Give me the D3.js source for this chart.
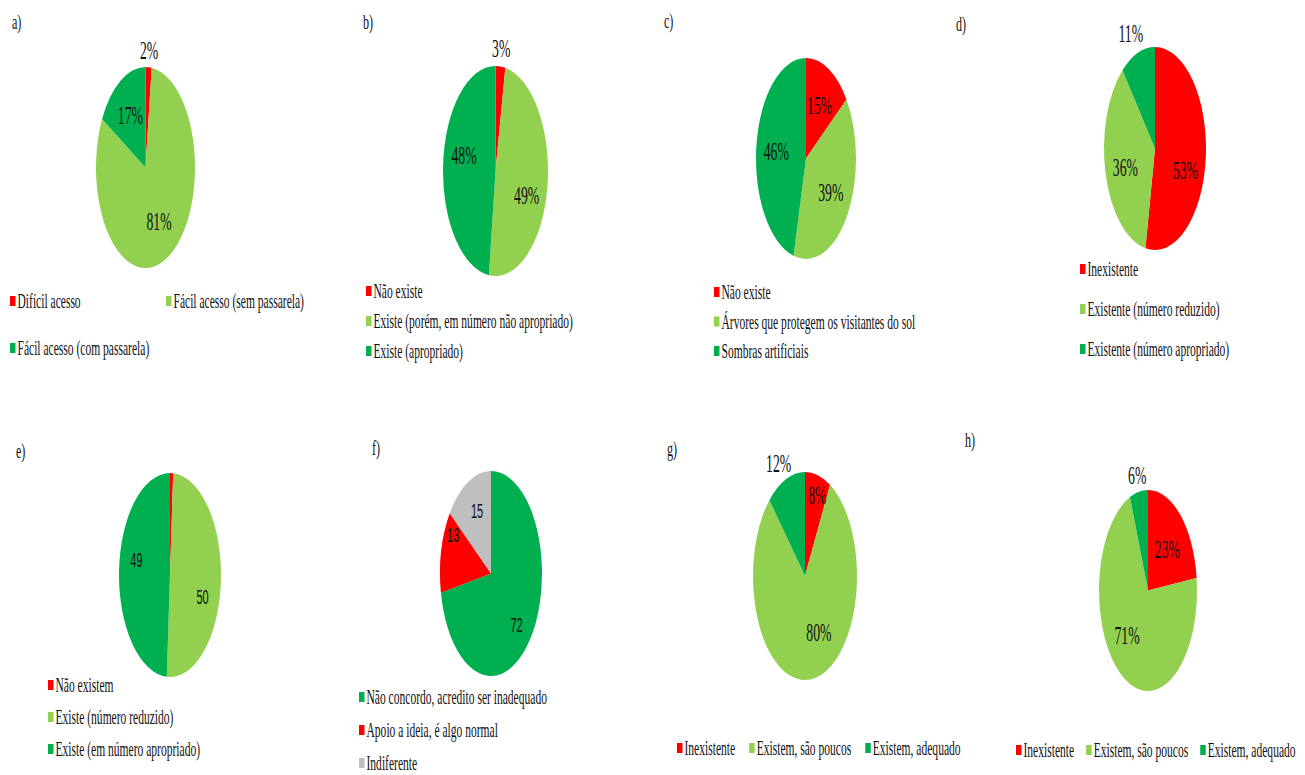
<!DOCTYPE html>
<html>
<head>
<script src="https://cdnjs.cloudflare.com/ajax/libs/d3/7.8.5/d3.min.js"></script>
<style>
  body { margin: 0; background: #fff; }
  text { font-family: "Liberation Serif", "Times New Roman", serif; fill: #111; }
</style>
</head>
<body>
<div id="chart"></div>
<script>
const W = 1305, H = 775;
const SX = 0.55; // the source figure is squeezed horizontally, text included

const RED = "#ff0000", LIGHT = "#92d050", DARK = "#00b050", GRAY = "#bfbfbf";

// a)
const catsA = ["Difícil acesso", "Fácil acesso (sem passarela)", "Fácil acesso (com passarela)"];
const valsA = [2, 81, 17];
// b)
const catsB = ["Não existe", "Existe (porém, em número não apropriado)", "Existe (apropriado)"];
const valsB = [3, 49, 48];
// c)
const catsC = ["Não existe", "Árvores que protegem os visitantes do sol", "Sombras artificiais"];
const valsC = [15, 39, 46];
// d)
const catsD = ["Inexistente", "Existente (número reduzido)", "Existente (número apropriado)"];
const valsD = [53, 36, 11];
// e)
const catsE = ["Não existem", "Existe (número reduzido)", "Existe (em número apropriado)"];
const valsE = [1, 50, 49];
// f)
const catsF = ["Não concordo, acredito ser inadequado", "Apoio a ideia, é algo normal", "Indiferente"];
const valsF = [72, 13, 15];
// g)
const catsG = ["Inexistente", "Existem, são poucos", "Existem, adequado"];
const valsG = [8, 80, 12];
// h)
const catsH = ["Inexistente", "Existem, são poucos", "Existem, adequado"];
const valsH = [23, 71, 6];

const rgd = [RED, LIGHT, DARK];

const charts = [
  { tag: "a)", tagPos: [12, 29], cats: catsA, vals: valsA, cols: rgd, fmt: "pct",
    cx: 145.5, cy: 167.5, rx: 49.5, ry: 100.5, lr: [1.17, 0.6, 0.6],
    legend: { x: 10, y: 301, dy: 47, perRow: 2, colW: 156 } },
  { tag: "b)", tagPos: [363, 29], cats: catsB, vals: valsB, cols: rgd, fmt: "pct",
    cx: 495.5, cy: 171, rx: 52.5, ry: 105, lr: [1.17, 0.6, 0.6], nudge: [[0, 0], [0, 14], [0, -12]],
    legend: { x: 366, y: 291, dy: 30, perRow: 1 } },
  { tag: "c)", tagPos: [664, 28], cats: catsC, vals: valsC, cols: rgd, fmt: "pct",
    cx: 806, cy: 158.5, rx: 50, ry: 100.5, lr: [0.6, 0.6, 0.6],
    legend: { x: 714, y: 292, dy: 29.5, perRow: 1 } },
  { tag: "d)", tagPos: [956, 31], cats: catsD, vals: valsD, cols: rgd, fmt: "pct",
    cx: 1155, cy: 148.5, rx: 51, ry: 101.5, lr: [0.6, 0.6, 1.17], nudge: [[0, 16], [0, 4], [-4, -4]],
    legend: { x: 1080, y: 269, dy: 40, perRow: 1 } },
  { tag: "e)", tagPos: [16, 458], cats: catsE, vals: valsE, cols: rgd, fmt: "num",
    cx: 170, cy: 575, rx: 51, ry: 102, lr: [null, 0.6, 0.6], nudge: [[0, 0], [2, 18], [-3, -13]],
    legend: { x: 48, y: 685, dy: 32, perRow: 1 } },
  { tag: "f)", tagPos: [372, 455], cats: catsF, vals: valsF, cols: [DARK, RED, GRAY], fmt: "num",
    cx: 491, cy: 573.5, rx: 51, ry: 102.5, lr: [0.6, 0.6, 0.6], nudge: [[2, 12], [-8, -25], [0, -8]],
    legend: { x: 359, y: 697, dy: 33, perRow: 1 } },
  { tag: "g)", tagPos: [667, 456], cats: catsG, vals: valsG, cols: rgd, fmt: "pct",
    cx: 805, cy: 576, rx: 52, ry: 104, lr: [0.8, 0.6, 1.17], nudge: [[2, 0], [10, -6], [-4, 0]],
    legend: { x: 677, y: 748, gap: 14, flow: true } },
  { tag: "h)", tagPos: [965, 447], cats: catsH, vals: valsH, cols: rgd, fmt: "pct",
    cx: 1148, cy: 590.5, rx: 49, ry: 100.5, lr: [0.6, 0.6, 1.17], nudge: [[0, 4], [-6, -7], [0, 0]],
    legend: { x: 1016, y: 750, gap: 12, flow: true } }
];

const svg = d3.select("#chart").append("svg")
  .attr("width", W).attr("height", H);

function addText(parent, str, x, y, size, anchor, family, dy) {
  return parent.append("text")
    .attr("transform", `translate(${x},${y}) scale(${SX},1)`)
    .attr("text-anchor", anchor)
    .attr("dy", dy || null)
    .style("font-size", size + "px")
    .style("font-family", family || null)
    .text(str);
}

charts.forEach(c => {
  const g = svg.append("g");
  addText(g, c.tag, c.tagPos[0], c.tagPos[1], 22, "start");

  const arcs = d3.pie().sort(null).value(d => d)(c.vals);
  const arc = d3.arc().innerRadius(0).outerRadius(c.ry);
  const sx = c.rx / c.ry;

  g.append("g")
    .attr("transform", `translate(${c.cx},${c.cy}) scale(${sx},1)`)
    .selectAll("path")
    .data(arcs)
    .join("path")
    .attr("d", arc)
    .attr("fill", (d, i) => c.cols[i]);

  // data labels
  arcs.forEach((d, i) => {
    const k = c.lr[i];
    if (k == null) return;
    const [px, py] = d3.arc().innerRadius(k * c.ry).outerRadius(k * c.ry).centroid(d);
    const nd = (c.nudge && c.nudge[i]) || [0, 0];
    if (c.fmt === "pct") {
      addText(g, d.data + "%", c.cx + px * sx + nd[0], c.cy + py + nd[1], 25, "middle", null, "0.35em");
    } else {
      addText(g, String(d.data), c.cx + px * sx + nd[0], c.cy + py + nd[1], 20, "middle",
        "'Liberation Sans', Arial, sans-serif", "0.35em");
    }
  });

  // legend
  const L = c.legend;
  let xx = L.x;
  c.cats.forEach((name, i) => {
    let x, y;
    if (L.flow) { x = xx; y = L.y; }
    else { x = L.x + (i % L.perRow) * (L.colW || 0); y = L.y + Math.floor(i / L.perRow) * L.dy; }
    g.append("rect")
      .attr("x", x).attr("y", y - 5)
      .attr("width", 5.5).attr("height", 10)
      .attr("fill", c.cols[i]);
    const t = addText(g, name, x + 7.5, y, 21, "start", null, "0.35em");
    if (L.flow) xx = x + 7.5 + t.node().getComputedTextLength() * SX + L.gap;
  });
});
</script>
</body>
</html>
